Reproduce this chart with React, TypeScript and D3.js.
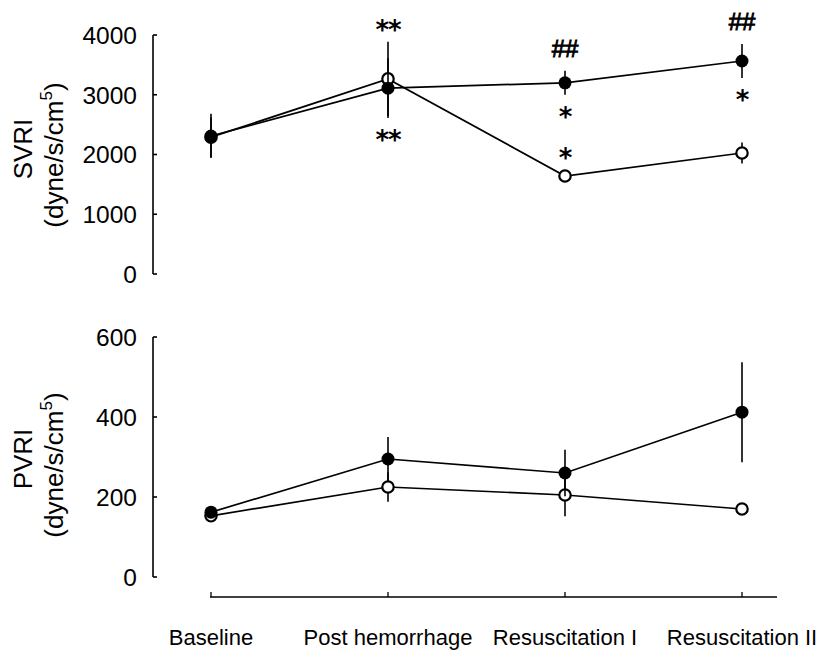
import React from "react";
import * as d3 from "d3";

// categories on the x axis
const categories = ["Baseline", "Post hemorrhage", "Resuscitation I", "Resuscitation II"];

// SVRI panel (dyne/s/cm5)
const svriFilled = [2310, 3110, 3200, 3565];
const svriFilledErr = [370, 500, 200, 285];
const svriOpen = [2290, 3265, 1640, 2025];
const svriOpenErr = [330, 620, 50, 175];
const svriTicks = [0, 1000, 2000, 3000, 4000];

// PVRI panel (dyne/s/cm5)
const pvriFilled = [162, 295, 260, 412];
const pvriFilledErr = [10, 55, 58, 125];
const pvriOpen = [153, 225, 205, 170];
const pvriOpenErr = [8, 37, 53, 10];
const pvriTicks = [0, 200, 400, 600];

// significance marks on the SVRI panel
const svriMarks = [
  { cat: 1, series: "open", side: "above", text: "**" },
  { cat: 1, series: "filled", side: "below", text: "**" },
  { cat: 2, series: "filled", side: "above", text: "##" },
  { cat: 2, series: "filled", side: "below", text: "*" },
  { cat: 2, series: "open", side: "above", text: "*" },
  { cat: 3, series: "filled", side: "above", text: "##" },
  { cat: 3, series: "filled", side: "below", text: "*" },
];

const FONT = "'Liberation Sans', Arial, Helvetica, sans-serif";
const R = 6.5;

const x = d3.scalePoint<string>().domain(categories).range([211, 742]);
const axisX = 153;

type PanelProps = {
  y: d3.ScaleLinear<number, number>;
  ticks: number[];
  title: string;
  titleY: number;
  filled: number[];
  filledErr: number[];
  open: number[];
  openErr: number[];
  marks?: typeof svriMarks;
};

const Panel = ({ y, ticks, title, titleY, filled, filledErr, open, openErr, marks = [] }: PanelProps) => {
  const line = d3
    .line<number>()
    .x((_, i) => x(categories[i])!)
    .y((d) => y(d));
  const [y0, y1] = y.range();

  const series = (vals: number[], errs: number[], isFilled: boolean) => (
    <g>
      <path d={line(vals)!} fill="none" stroke="#000" strokeWidth={1.7} />
      {vals.map((v, i) => (
        <line
          key={"e" + i}
          x1={x(categories[i])}
          x2={x(categories[i])}
          y1={y(v - errs[i])}
          y2={y(v + errs[i])}
          stroke="#000"
          strokeWidth={1.6}
        />
      ))}
      {vals.map((v, i) => (
        <circle
          key={"c" + i}
          cx={x(categories[i])}
          cy={y(v)}
          r={isFilled ? R : R - 0.8}
          fill={isFilled ? "#000" : "#fff"}
          stroke="#000"
          strokeWidth={isFilled ? 0 : 2.2}
        />
      ))}
    </g>
  );

  return (
    <g>
      {/* y axis, ticks point inward */}
      <line x1={axisX} x2={axisX} y1={y0} y2={y1} stroke="#000" strokeWidth={1.6} />
      {ticks.map((t) => (
        <g key={t}>
          <line x1={axisX} x2={axisX + 4} y1={y(t)} y2={y(t)} stroke="#000" strokeWidth={1.6} />
          <text x={137} y={y(t) + 8.8} textAnchor="end" fontSize={24.5} fontFamily={FONT}>
            {t}
          </text>
        </g>
      ))}
      {/* axis title */}
      <text transform={`translate(32,${titleY - 2}) rotate(-90)`} textAnchor="middle" fontSize={26} fontFamily={FONT}>
        {title}
      </text>
      <text transform={`translate(63,${titleY + 4}) rotate(-90)`} textAnchor="middle" fontSize={26} fontFamily={FONT}>
        (dyne/s/cm
        <tspan fontSize={17} dy={-11}>5</tspan>
        <tspan dy={11}>)</tspan>
      </text>
      {series(open, openErr, false)}
      {series(filled, filledErr, true)}
      {marks.map((m, k) => {
        const vals = m.series === "filled" ? filled : open;
        const errs = m.series === "filled" ? filledErr : openErr;
        const v = vals[m.cat];
        const top = Math.min(y(v + errs[m.cat]), y(v) - R);
        const bottom = Math.max(y(v - errs[m.cat]), y(v) + R);
        const hash = m.text.startsWith("#");
        const gap = hash ? 22 : 17;
        const cy = m.side === "above" ? top - gap : bottom + gap;
        return hash ? (
          <text key={k} x={x(categories[m.cat])} y={cy + 8.5} textAnchor="middle" fontSize={24}
            fontFamily={FONT} stroke="#000" strokeWidth={0.9}>
            {m.text}
          </text>
        ) : (
          <text key={k} x={x(categories[m.cat])} y={cy + 14} textAnchor="middle" fontSize={26}
            fontWeight="bold" fontFamily="'DejaVu Sans', sans-serif" letterSpacing={-1}>
            {m.text}
          </text>
        );
      })}
    </g>
  );
};

const App = () => {
  const ySvri = d3.scaleLinear().domain([0, 4000]).range([274, 35]);
  const yPvri = d3.scaleLinear().domain([0, 600]).range([577, 337]);
  const xAxisY = 597;
  const [xs, xe] = [210, 777];

  return (
    <svg width={820} height={652} style={{ position: "absolute", left: 0, top: 0, background: "#fff" }}>
      <rect width={820} height={652} fill="#fff" />
      <Panel y={ySvri} ticks={svriTicks} title="SVRI" titleY={151} filled={svriFilled}
        filledErr={svriFilledErr} open={svriOpen} openErr={svriOpenErr} marks={svriMarks} />
      <Panel y={yPvri} ticks={pvriTicks} title="PVRI" titleY={461} filled={pvriFilled}
        filledErr={pvriFilledErr} open={pvriOpen} openErr={pvriOpenErr} />
      {/* x axis */}
      <line x1={xs} x2={xe} y1={xAxisY} y2={xAxisY} stroke="#000" strokeWidth={1.7} />
      {categories.map((c) => (
        <g key={c}>
          <line x1={x(c)} x2={x(c)} y1={xAxisY} y2={xAxisY - 5} stroke="#000" strokeWidth={1.3} />
          <text x={x(c)} y={645} textAnchor="middle" fontSize={22} fontFamily={FONT}>
            {c}
          </text>
        </g>
      ))}
    </svg>
  );
};

export default App;
